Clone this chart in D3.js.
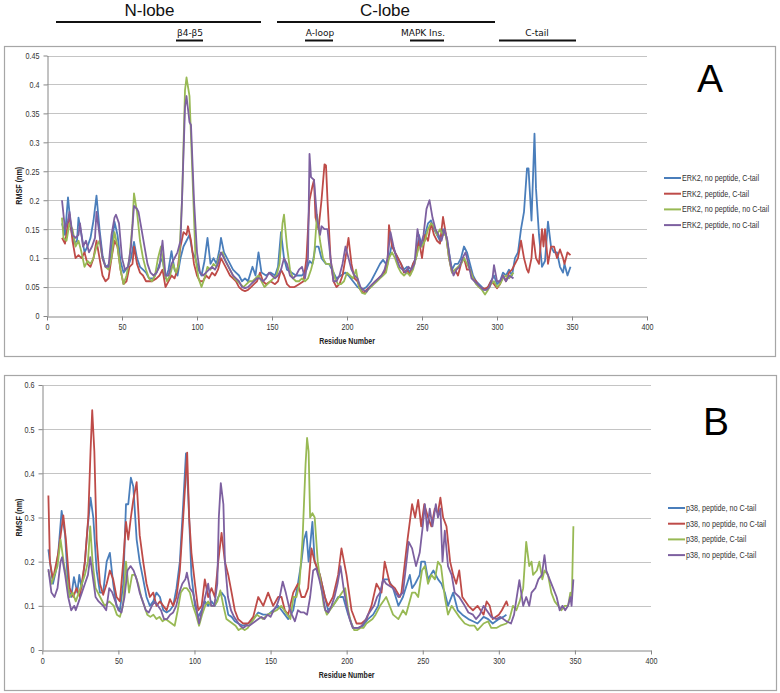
<!DOCTYPE html>
<html><head><meta charset="utf-8">
<script src="https://cdn.jsdelivr.net/npm/d3@7/dist/d3.min.js"></script>
<style>body{margin:0;background:#fff}svg{display:block}</style>
</head><body>
<svg id="c" width="780" height="693"></svg>
<script>
// ---------------- DATA ----------------
const xTicks = [0, 50, 100, 150, 200, 250, 300, 350, 400];
const yTicksA = [0, 0.05, 0.1, 0.15, 0.2, 0.25, 0.3, 0.35, 0.4, 0.45];
const yTicksB = [0, 0.1, 0.2, 0.3, 0.4, 0.5, 0.6];
const legendA = ["ERK2, no peptide, C-tail", "ERK2, peptide, C-tail", "ERK2, no peptide, no C-tail", "ERK2, peptide, no C-tail"];
const legendB = ["p38, peptide, no C-tail", "p38, no peptide, no C-tail", "p38, peptide, C-tail", "p38, no peptide, C-tail"];
const colors = ["#4A7EBB", "#BE4B48", "#98B954", "#7D60A0"];
const regions = ["N-lobe", "C-lobe"];
const subRegions = ["β4-β5", "A-loop", "MAPK Ins.", "C-tail"];

// Panel A: [residue, RMSF nm]
const erkNoPepCtail = [[10,.16],[12,.14],[14,.205],[16,.15],[18,.125],[20,.13],[21,.17],[23,.14],[25,.11],[27,.12],[29,.135],[31,.165],[33,.208],[35,.15],[37,.105],[39,.085],[42,.09],[44,.14],[45,.163],[47,.14],[49,.095],[51,.075],[54,.085],[56,.1],[58,.128],[60,.1],[62,.085],[64,.08],[66,.075],[68,.065],[71,.065],[73,.075],[75,.09],[77,.1],[79,.065],[81,.08],[83,.112],[85,.08],[87,.07],[89,.1],[91,.12],[93,.13],[95,.14],[97,.11],[99,.1],[101,.08],[103,.07],[105,.095],[107,.135],[109,.09],[111,.1],[113,.09],[115,.115],[116,.135],[118,.11],[120,.1],[122,.09],[124,.08],[126,.075],[128,.07],[130,.06],[132,.065],[134,.06],[137,.085],[139,.07],[141,.11],[143,.075],[146,.07],[149,.075],[152,.07],[154,.085],[156,.145],[158,.1],[160,.08],[163,.075],[166,.07],[170,.07],[173,.08],[175,.095],[177,.09],[179,.12],[181,.12],[183,.1],[186,.09],[188,.09],[190,.08],[193,.065],[196,.07],[199,.075],[201,.07],[204,.06],[207,.05],[210,.045],[213,.05],[216,.06],[219,.075],[222,.09],[224,.097],[226,.09],[228,.1],[230,.125],[232,.11],[234,.1],[236,.09],[238,.08],[240,.085],[242,.075],[244,.09],[246,.1],[248,.14],[250,.12],[252,.14],[254,.16],[256,.165],[258,.15],[260,.14],[262,.13],[264,.15],[266,.14],[268,.11],[270,.08],[272,.09],[274,.09],[276,.1],[278,.12],[280,.11],[282,.09],[284,.07],[286,.06],[288,.055],[290,.05],[292,.045],[294,.05],[296,.06],[298,.07],[300,.055],[302,.06],[304,.075],[306,.07],[308,.08],[310,.07],[312,.1],[314,.11],[316,.15],[318,.18],[320,.255],[321,.255],[323,.165],[325,.315],[326,.22],[328,.14],[330,.085],[332,.095],[334,.163],[336,.12],[338,.11],[340,.11],[342,.085],[344,.075],[345,.09],[347,.07],[349,.085]];
const erkPepCtail = [[10,.135],[12,.125],[14,.16],[15,.175],[17,.13],[19,.1],[21,.105],[23,.1],[25,.11],[27,.09],[29,.085],[31,.1],[33,.13],[35,.1],[37,.07],[39,.06],[41,.065],[43,.1],[45,.13],[47,.12],[49,.08],[51,.055],[53,.06],[55,.085],[57,.09],[58,.12],[60,.09],[62,.075],[64,.07],[66,.06],[68,.06],[70,.06],[73,.065],[75,.07],[77,.08],[79,.05],[81,.06],[83,.07],[85,.065],[87,.08],[89,.12],[91,.145],[93,.14],[94,.155],[96,.13],[98,.09],[100,.07],[102,.06],[104,.06],[106,.07],[108,.065],[110,.075],[112,.07],[114,.08],[116,.1],[118,.09],[120,.08],[122,.07],[124,.065],[126,.06],[128,.05],[130,.045],[132,.043],[134,.045],[136,.05],[138,.055],[140,.06],[142,.075],[144,.06],[146,.055],[149,.06],[152,.055],[154,.06],[156,.08],[158,.07],[160,.055],[162,.05],[165,.05],[168,.055],[171,.06],[173,.1],[175,.2],[177,.225],[178,.235],[179,.17],[181,.15],[183,.2],[185,.262],[186,.26],[187,.2],[189,.1],[191,.06],[193,.05],[195,.055],[197,.07],[199,.1],[201,.135],[203,.09],[205,.065],[207,.06],[209,.045],[211,.04],[213,.045],[215,.05],[217,.055],[219,.06],[221,.065],[223,.07],[225,.075],[227,.09],[228,.157],[230,.12],[232,.11],[234,.1],[236,.09],[238,.075],[240,.08],[242,.07],[244,.09],[246,.1],[248,.13],[250,.1],[252,.14],[254,.13],[256,.16],[258,.14],[260,.13],[262,.125],[264,.171],[266,.14],[268,.1],[270,.075],[272,.08],[274,.07],[276,.09],[278,.1],[280,.08],[282,.08],[284,.065],[286,.06],[288,.05],[290,.048],[292,.047],[294,.05],[296,.06],[298,.055],[300,.048],[302,.055],[304,.07],[306,.06],[308,.075],[310,.08],[312,.09],[314,.1],[316,.13],[318,.1],[320,.08],[321,.075],[323,.1],[324,.141],[326,.1],[328,.09],[330,.15],[331,.12],[332,.15],[334,.09],[336,.12],[338,.12],[340,.1],[342,.115],[344,.1],[345,.09],[347,.11],[349,.105]];
const erkNoPepNoCtail = [[10,.17],[11,.135],[13,.13],[15,.16],[17,.15],[19,.12],[21,.13],[23,.11],[25,.085],[27,.095],[29,.09],[31,.1],[33,.12],[35,.13],[37,.1],[39,.085],[41,.08],[43,.1],[45,.145],[47,.12],[49,.08],[51,.055],[53,.07],[55,.1],[57,.16],[58,.212],[60,.18],[62,.13],[64,.1],[66,.08],[68,.065],[70,.06],[72,.07],[74,.1],[76,.12],[78,.08],[80,.06],[82,.07],[84,.09],[86,.075],[88,.09],[90,.2],[92,.39],[93,.412],[95,.38],[97,.24],[99,.1],[101,.065],[103,.05],[105,.065],[107,.085],[109,.08],[111,.09],[113,.085],[115,.105],[117,.11],[119,.095],[121,.085],[123,.075],[125,.065],[127,.06],[129,.055],[131,.05],[133,.055],[135,.06],[137,.06],[139,.065],[141,.07],[143,.06],[145,.05],[147,.055],[149,.06],[151,.065],[153,.07],[155,.09],[157,.16],[158,.175],[160,.12],[162,.08],[164,.065],[166,.06],[168,.06],[170,.065],[172,.06],[174,.065],[176,.08],[178,.1],[180,.175],[182,.13],[184,.1],[186,.09],[188,.09],[190,.085],[192,.065],[194,.055],[196,.055],[198,.06],[200,.075],[202,.07],[204,.065],[206,.08],[208,.05],[210,.04],[212,.038],[214,.045],[216,.05],[218,.055],[220,.06],[222,.065],[224,.07],[226,.075],[228,.1],[230,.11],[232,.1],[234,.085],[236,.075],[238,.07],[240,.075],[242,.07],[244,.08],[246,.1],[248,.12],[250,.12],[252,.13],[254,.15],[256,.16],[258,.155],[260,.14],[262,.15],[264,.14],[266,.14],[268,.1],[270,.075],[272,.08],[274,.085],[276,.09],[278,.1],[280,.09],[282,.08],[284,.065],[286,.055],[288,.05],[290,.045],[292,.037],[294,.045],[296,.055],[298,.06],[300,.05],[302,.055],[304,.065],[306,.07],[308,.065],[311,.075]];
const erkPepNoCtail = [[10,.2],[12,.15],[14,.165],[15,.18],[17,.14],[19,.135],[21,.14],[22,.16],[24,.12],[26,.13],[28,.11],[30,.12],[32,.135],[33,.18],[35,.14],[37,.1],[39,.085],[41,.085],[43,.14],[45,.17],[46,.175],[48,.16],[50,.1],[52,.08],[54,.085],[56,.12],[58,.19],[60,.185],[61,.18],[63,.15],[65,.12],[67,.09],[69,.075],[71,.07],[73,.075],[75,.085],[77,.13],[79,.07],[81,.07],[83,.09],[85,.1],[87,.11],[89,.13],[90,.2],[92,.36],[93,.38],[95,.335],[96,.33],[98,.2],[100,.11],[102,.075],[104,.07],[106,.075],[108,.08],[110,.085],[112,.08],[114,.09],[116,.11],[118,.1],[120,.09],[122,.08],[124,.07],[126,.065],[128,.06],[130,.05],[132,.048],[134,.05],[136,.055],[138,.06],[140,.065],[142,.065],[144,.06],[146,.065],[148,.075],[150,.07],[152,.065],[154,.07],[156,.08],[158,.1],[160,.09],[162,.07],[164,.065],[166,.07],[168,.08],[170,.085],[172,.065],[174,.1],[175,.28],[176,.24],[178,.235],[180,.17],[182,.14],[183,.155],[185,.15],[187,.15],[189,.1],[191,.06],[193,.06],[195,.07],[197,.09],[199,.12],[201,.1],[203,.08],[205,.07],[207,.065],[209,.05],[211,.045],[213,.042],[215,.05],[217,.055],[219,.06],[221,.065],[223,.07],[225,.08],[227,.1],[229,.145],[231,.12],[233,.1],[235,.085],[237,.08],[239,.075],[241,.085],[243,.08],[245,.09],[247,.15],[249,.12],[251,.14],[253,.185],[255,.2],[257,.17],[259,.15],[261,.14],[263,.13],[265,.15],[267,.13],[269,.09],[271,.07],[273,.08],[275,.085],[277,.1],[279,.11],[281,.09],[283,.065],[285,.06],[287,.055],[289,.05],[291,.045],[293,.045],[295,.05],[297,.065],[298,.088],[300,.06],[302,.06],[304,.07],[306,.06],[308,.07],[311,.065]];

// Panel B: [residue, RMSF nm]
const p38PepNoCtail = [[4,.228],[5,.2],[7,.15],[9,.18],[10.5,.22],[12.7,.315],[15,.26],[17,.14],[19,.12],[20.8,.165],[23,.13],[24.3,.17],[25.8,.14],[28,.2],[29.6,.27],[31.7,.345],[33.5,.3],[35.7,.18],[37.9,.13],[40,.13],[42.3,.2],[44.4,.22],[46.6,.15],[48.8,.1],[51,.09],[53.2,.15],[55,.33],[56.5,.33],[58.2,.39],[59.8,.37],[62,.25],[64,.2],[66.3,.16],[68.5,.12],[70.7,.1],[72.9,.11],[75,.13],[77.3,.12],[79.5,.09],[81.7,.085],[83.9,.09],[86,.1],[88.2,.14],[90.4,.2],[92.6,.33],[94.4,.445],[95.9,.35],[98,.17],[100.3,.1],[102.5,.075],[104.7,.09],[106.8,.11],[109,.1],[111.2,.11],[113.4,.1],[115.6,.12],[117.8,.13],[120,.12],[122.2,.08],[124.4,.075],[126.5,.065],[128.7,.06],[132,.055],[135.3,.06],[138.6,.07],[141.9,.085],[145.2,.08],[148.4,.08],[151.7,.09],[155,.1],[157.2,.09],[159.4,.08],[161.6,.07],[164.9,.09],[168,.15],[170.3,.2],[172,.25],[173.5,.268],[175,.2],[177.5,.29],[179,.2],[182.4,.17],[185.7,.12],[187.8,.09],[191,.1],[194.4,.12],[197.7,.12],[201,.08],[204.3,.05],[207.5,.05],[210.8,.055],[214,.07],[217.4,.08],[220.7,.1],[224,.16],[227.3,.16],[230.5,.14],[234,.1],[237,.12],[241.5,.17],[243,.14],[245,.15],[248,.17],[249,.2],[251.4,.2],[253.5,.16],[257,.18],[260.1,.16],[262.3,.15],[264.5,.13],[266.6,.1],[270,.13],[273,.09],[276,.08],[280,.07],[283,.065],[286,.06],[290,.075],[293,.07],[296,.06],[300,.07],[303,.075],[305,.08]];
const p38NoPepNoCtail = [[4,.35],[5,.2],[7,.16],[10.5,.22],[13.8,.305],[15.5,.25],[18,.14],[20.4,.12],[22.5,.14],[24.7,.12],[28,.2],[30.2,.3],[31.7,.45],[32.8,.543],[34.2,.45],[35.7,.25],[37.9,.15],[40,.125],[42.3,.15],[44.4,.18],[46.6,.16],[48.8,.12],[51,.11],[53.2,.2],[55,.29],[56.5,.25],[58.2,.3],[59.8,.34],[62,.38],[64,.26],[66.3,.2],[68.5,.15],[70.7,.12],[72.9,.13],[75,.1],[77.3,.11],[79.5,.1],[81.7,.09],[83.9,.115],[86,.1],[88.2,.12],[90.4,.18],[92.6,.3],[95.2,.447],[96.5,.3],[98,.22],[100.3,.15],[102.5,.09],[104.7,.1],[106.8,.16],[109,.12],[111.2,.14],[113.4,.12],[115.6,.2],[117.8,.265],[120,.2],[122.2,.17],[124.4,.13],[126.5,.09],[128.7,.07],[132,.06],[135.3,.06],[138.6,.075],[141.9,.12],[145.2,.1],[148.4,.13],[151.7,.1],[155,.12],[157.2,.12],[159.4,.09],[161.6,.08],[164.9,.13],[168,.15],[170.3,.12],[172.5,.12],[174.7,.14],[176.9,.23],[179,.2],[182.4,.17],[185.7,.12],[187.8,.1],[191,.12],[194.4,.17],[196.6,.23],[199.9,.17],[203.2,.09],[206.5,.06],[209.7,.06],[213,.07],[216.3,.1],[219.6,.15],[222.9,.13],[225,.2],[228.4,.15],[231.7,.14],[235,.12],[236,.13],[240,.25],[243,.33],[245,.3],[247,.34],[249,.28],[251,.33],[253.5,.3],[255.7,.28],[257.9,.32],[260,.31],[261.6,.345],[263.4,.3],[265.6,.28],[268,.2],[270,.17],[272,.15],[274,.18],[276,.12],[280,.1],[283,.09],[286,.1],[290,.08],[292,.11],[294,.1],[296,.07],[300,.08],[302,.09],[305,.11],[306,.1]];
const p38PepCtail = [[4,.18],[6,.15],[8,.17],[10,.19],[12,.25],[14,.2],[16,.16],[18,.12],[20,.13],[22,.11],[25,.14],[28,.17],[30,.2],[31.5,.28],[33,.2],[35,.14],[38,.12],[41,.1],[44,.11],[47,.1],[49,.08],[51,.075],[53,.1],[55,.2],[57,.13],[59,.17],[61,.17],[63,.15],[65,.12],[67,.1],[69,.08],[71,.075],[73,.08],[75,.07],[77,.075],[79,.065],[81,.07],[83,.065],[85,.06],[87,.055],[89,.09],[91,.13],[93,.14],[95,.14],[97,.13],[99,.1],[101,.08],[103,.055],[105,.08],[107,.1],[109,.11],[111,.1],[113,.1],[115,.11],[117,.135],[119,.1],[121,.07],[123,.065],[125,.06],[127,.055],[129,.045],[131,.05],[133,.045],[135,.05],[137,.06],[139,.07],[141,.08],[143,.075],[145,.07],[148,.08],[151,.085],[154,.09],[157,.1],[159,.09],[161,.08],[163,.07],[165,.12],[167,.12],[169,.15],[171,.25],[173,.42],[174,.48],[175,.45],[176,.3],[177.5,.31],[179,.3],[181,.2],[183,.15],[185,.1],[187,.08],[189,.09],[191,.1],[193,.11],[195,.12],[197,.13],[199,.14],[201,.09],[203,.06],[205,.045],[207,.045],[209,.05],[211,.05],[213,.06],[215,.065],[217,.07],[219,.08],[222,.1],[226,.12],[230.5,.08],[234,.07],[237,.09],[239,.08],[243,.13],[245,.13],[247,.12],[249.5,.18],[251.4,.19],[253.5,.15],[255.7,.17],[258,.16],[260,.2],[262,.19],[264.5,.12],[266.6,.08],[269,.1],[271,.09],[274,.075],[277.6,.06],[281,.055],[284,.055],[286,.045],[290,.06],[293,.065],[295,.05],[298.4,.05],[301,.055],[305,.06],[307,.07],[309.3,.1],[311.5,.09],[313.7,.11],[316,.14],[318,.245],[320,.19],[321.5,.2],[322.5,.17],[325,.18],[326.6,.2],[328.6,.16],[330,.18],[332.3,.17],[334.5,.13],[336.7,.11],[339,.1],[341.1,.09],[343.3,.1],[345.5,.1],[347,.13],[348,.12],[349,.28]];
const p38NoPepCtail = [[4,.183],[6,.13],[8,.12],[10,.14],[12,.2],[13,.21],[15,.17],[17,.12],[19,.09],[21,.1],[22,.09],[24,.11],[26,.13],[28,.15],[30,.17],[31.5,.21],[33,.17],[35,.12],[37,.11],[40,.1],[42,.09],[44,.14],[46,.13],[48,.11],[50,.09],[52,.085],[54,.12],[56,.18],[58,.19],[60,.18],[62,.16],[64,.13],[66,.11],[68,.09],[70,.085],[72,.1],[74,.11],[76,.1],[78,.09],[80,.07],[82,.07],[84,.08],[86,.085],[88,.1],[90,.13],[92,.15],[94,.16],[95,.175],[97,.14],[99,.13],[101,.1],[103,.06],[105,.09],[107,.12],[109,.15],[111,.1],[113,.1],[115,.15],[116,.3],[117.3,.378],[119,.33],[120,.2],[122,.12],[124,.09],[126,.075],[128,.065],[130,.055],[132,.05],[134,.055],[136,.055],[138,.06],[140,.065],[142,.07],[144,.075],[146,.07],[148,.08],[150,.075],[152,.09],[154,.1],[156,.12],[158,.155],[160,.13],[162,.1],[164,.08],[166,.065],[168,.09],[170,.085],[172,.085],[174,.08],[176,.12],[178,.18],[180,.185],[182,.16],[184,.13],[186,.09],[188,.085],[190,.1],[192,.12],[194,.15],[196,.19],[198,.14],[200,.1],[202,.07],[204,.05],[206,.05],[208,.05],[210,.055],[212,.065],[214,.08],[216,.09],[218,.1],[220,.12],[222,.13],[224,.16],[226,.15],[230.5,.14],[234,.12],[237,.13],[240.8,.245],[243,.23],[245.6,.19],[248,.22],[250,.28],[251.4,.33],[253,.27],[254.6,.32],[256.4,.28],[258.6,.33],[260,.3],[261.6,.32],[263,.2],[264.5,.27],[266.6,.19],[269,.17],[271,.13],[274,.12],[277.6,.1],[280,.085],[283,.08],[285,.07],[287.5,.08],[290,.1],[292,.09],[295,.075],[298.4,.07],[301,.075],[305,.065],[308,.06],[310,.08],[313.5,.158],[316,.1],[318,.12],[320,.1],[321.5,.13],[324,.14],[326,.16],[328.3,.17],[330,.215],[331.2,.18],[333.4,.16],[335.7,.14],[338,.12],[340,.09],[341.8,.1],[343.6,.09],[345.5,.1],[347,.12],[347.8,.1],[349,.16]];

const seriesA = [erkNoPepCtail, erkPepCtail, erkNoPepNoCtail, erkPepNoCtail];
const seriesB = [p38PepNoCtail, p38NoPepNoCtail, p38PepCtail, p38NoPepCtail];

// ---------------- DRAW ----------------
const svg = d3.select("#c");
const tickFont = "'Liberation Sans',Arial,sans-serif";
const squeeze = 0.8;

function panel(cfg) {
  const g = svg.append("g");
  g.append("rect").attr("x", cfg.box[0] + 0.5).attr("y", cfg.box[1] + 0.5)
    .attr("width", cfg.box[2] - cfg.box[0]).attr("height", cfg.box[3] - cfg.box[1])
    .attr("fill", "#fff").attr("stroke", "#a6a6a6").attr("stroke-width", 1.2);
  const x = d3.scaleLinear().domain([0, 400]).range(cfg.xr);
  const y = d3.scaleLinear().domain([0, cfg.yMax]).range(cfg.yr);
  // gridlines
  g.append("g").selectAll("line").data(cfg.yTicks.filter(v => v > 0)).join("line")
    .attr("x1", cfg.xr[0]).attr("x2", cfg.xr[1])
    .attr("y1", d => Math.round(y(d)) + 0.5).attr("y2", d => Math.round(y(d)) + 0.5)
    .attr("stroke", "#c4c4c4").attr("stroke-width", 1.2);
  // axes
  const fmt = v => String(+v.toFixed(2));
  const ax = g.append("g").attr("transform", `translate(0,${Math.round(cfg.yr[0]) + 0.5})`)
    .call(d3.axisBottom(x).tickValues(xTicks).tickSize(4).tickSizeOuter(0).tickFormat(d3.format("d")));
  const ay = g.append("g").attr("transform", `translate(${Math.round(cfg.xr[0]) + 0.5},0)`)
    .call(d3.axisLeft(y).tickValues(cfg.yTicks).tickSize(4).tickSizeOuter(0).tickFormat(fmt));
  [ax, ay].forEach(a => {
    a.select(".domain").attr("stroke", "#868686");
    a.selectAll(".tick line").attr("stroke", "#868686");
    a.selectAll("text").attr("fill", "#333").style("font-family", tickFont).style("font-size", "9px")
      .attr("transform", `scale(${squeeze},1)`);
  });
  ax.selectAll("text").attr("dy", "0.9em").attr("y", 5);
  ay.selectAll("text").attr("x", -10);
  // axis titles
  g.append("text").attr("transform", `translate(${(cfg.xr[0] + cfg.xr[1]) / 2},${cfg.yr[0] + 28}) scale(0.78,1)`)
    .attr("text-anchor", "middle").style("font-family", tickFont).style("font-size", "9px")
    .style("font-weight", "bold").attr("fill", "#222").text("Residue Number");
  g.append("text").attr("transform", `translate(22,${(cfg.yr[0] + cfg.yr[1]) / 2}) rotate(-90) scale(0.8,1)`)
    .attr("text-anchor", "middle").style("font-family", tickFont).style("font-size", "9px")
    .style("font-weight", "bold").attr("fill", "#222").text("RMSF (nm)");
  // lines
  const line = d3.line().x(d => x(d[0])).y(d => y(d[1]));
  cfg.series.forEach((s, i) => {
    g.append("path").datum(s).attr("d", line).attr("fill", "none")
      .attr("stroke", colors[i]).attr("stroke-width", 1.8).attr("stroke-linejoin", "round");
  });
  // legend
  const lg = g.append("g");
  cfg.legend.forEach((t, i) => {
    const yy = cfg.leg[1] + i * 15.7;
    lg.append("line").attr("x1", cfg.leg[0]).attr("x2", cfg.leg[0] + 17).attr("y1", yy).attr("y2", yy)
      .attr("stroke", colors[i]).attr("stroke-width", 2);
    lg.append("text").attr("transform", `translate(${cfg.leg[0] + 18},${yy + 3}) scale(${squeeze},1)`)
      .style("font-family", tickFont).style("font-size", "9px").attr("fill", "#333").text(t);
  });
  // panel letter
  g.append("text").attr("x", cfg.letterPos[0]).attr("y", cfg.letterPos[1]).attr("text-anchor", "middle")
    .style("font-family", "'Liberation Sans',Arial,sans-serif").style("font-size", "39px").attr("fill", "#000")
    .text(cfg.letter);
}

panel({box: [4, 46, 775, 356], xr: [47, 647], yr: [316, 55.5], yMax: 0.45, yTicks: yTicksA,
  series: seriesA, legend: legendA, leg: [664, 178], letter: "A", letterPos: [710, 92]});
panel({box: [4, 375, 776, 690], xr: [42.3, 651], yr: [650, 385], yMax: 0.6, yTicks: yTicksB,
  series: seriesB, legend: legendB, leg: [668, 508], letter: "B", letterPos: [716, 435]});

// ---------------- HEADER ----------------
const hdr = svg.append("g");
const lobeX = [[56, 261], [277, 495]];
regions.forEach((t, i) => {
  hdr.append("text").attr("x", (lobeX[i][0] + lobeX[i][1]) / 2 - (i === 0 ? 9 : 1)).attr("y", 16).attr("text-anchor", "middle")
    .style("font-family", "'Liberation Sans',Arial,sans-serif").style("font-size", "17px").attr("fill", "#111").text(t);
  hdr.append("line").attr("x1", lobeX[i][0]).attr("x2", lobeX[i][1]).attr("y1", 22).attr("y2", 22)
    .attr("stroke", "#111").attr("stroke-width", 2);
});
const subX = [[176, 203, 190], [305, 333, 320], [410, 444, 423], [499, 576, 537]];
subRegions.forEach((t, i) => {
  hdr.append("text").attr("x", subX[i][2]).attr("y", 36).attr("text-anchor", "middle")
    .style("font-family", "'DejaVu Sans',Verdana,sans-serif").style("font-size", "9px").attr("fill", "#111").text(t);
  hdr.append("line").attr("x1", subX[i][0]).attr("x2", subX[i][1]).attr("y1", 40.5).attr("y2", 40.5)
    .attr("stroke", "#111").attr("stroke-width", 2);
});
</script>
</body></html>
